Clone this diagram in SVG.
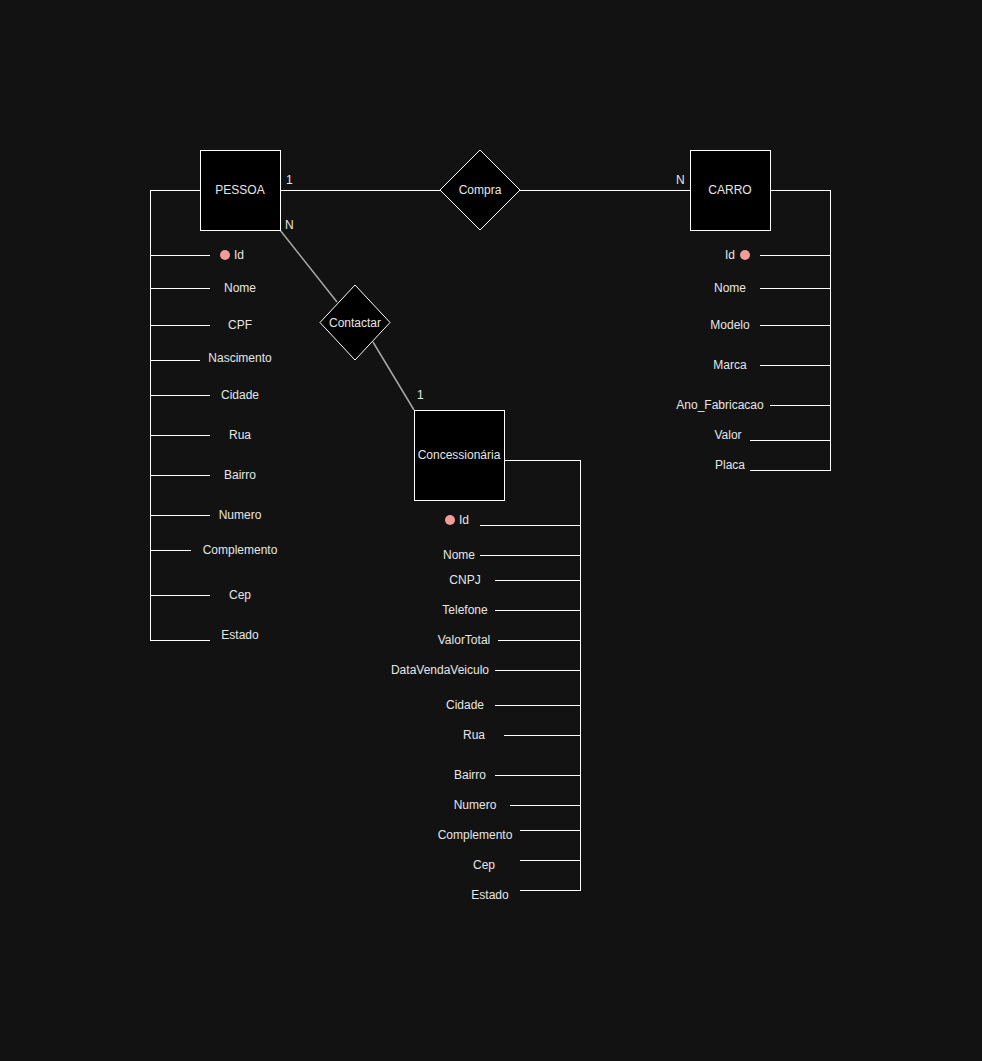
<svg xmlns="http://www.w3.org/2000/svg" width="982" height="1061" viewBox="0 0 982 1061">
<style>
.bg{fill:#121212}
.ent{fill:#000;stroke:#fff;stroke-width:1;shape-rendering:crispEdges}
.rel{fill:#000;stroke:#fff;stroke-width:1}
.ln{stroke:#fff;stroke-width:1;fill:none;shape-rendering:crispEdges}
.gl{stroke:#a6a6a6;stroke-width:1.5;fill:none}
text{font-family:"Liberation Sans",Arial,Helvetica,sans-serif;font-size:12px;fill:#e6e6e6}
.c{text-anchor:middle}
.pk{fill:#f19c99}
</style>
<rect class="bg" x="0" y="0" width="982" height="1061"/>
<g id="connectors">
<path class="ln" d="M280 190H440M520 190H690"/>
<path class="gl" d="M280 230L337 302M373 342L414 410"/>
<path class="ln" d="M200 190H150V640H210M150 255H210M150 288H210M150 325H210M150 360H200M150 395H210M150 435H210M150 475H210M150 515H210M150 550H191M150 595H210"/>
<path class="ln" d="M770 190H830V470H750M830 255H760M830 288H760M830 325H760M830 365H760M830 405H770M830 440H750"/>
<path class="ln" d="M504 460H580V890H520M580 525H480M580 555H480M580 580H495M580 610H495M580 640H498M580 670H495M580 705H495M580 735H504M580 775H495M580 805H510M580 830H520M580 860H520"/>
</g>
<g id="pessoa"><rect class="ent" x="200" y="150" width="80" height="80"/><text class="c" x="240" y="194">PESSOA</text></g>
<g id="compra"><path class="rel" d="M480 150L520 190L480 230L440 190Z"/><text class="c" x="480" y="194">Compra</text></g>
<g id="carro"><rect class="ent" x="690" y="150" width="80" height="80"/><text class="c" x="730" y="194">CARRO</text></g>
<g id="contactar"><path class="rel" d="M355 285L390 322.5L355 360L320 322.5Z"/><text class="c" x="355" y="327">Contactar</text></g>
<g id="concessionaria"><rect class="ent" x="414" y="410" width="90" height="90"/><text class="c" x="459" y="459">Concessionária</text></g>
<g id="labels">
<text x="286" y="184">1</text>
<text x="285" y="229">N</text>
<text x="676" y="184">N</text>
<text x="417" y="399">1</text>
</g>
<g id="pessoa-attrs">
<circle class="pk" cx="225" cy="255" r="5"/><text x="234" y="259">Id</text>
<text class="c" x="240" y="292">Nome</text>
<text class="c" x="240" y="329">CPF</text>
<text class="c" x="240" y="362">Nascimento</text>
<text class="c" x="240" y="399">Cidade</text>
<text class="c" x="240" y="439">Rua</text>
<text class="c" x="240" y="479">Bairro</text>
<text class="c" x="240" y="519">Numero</text>
<text class="c" x="240" y="554">Complemento</text>
<text class="c" x="240" y="599">Cep</text>
<text class="c" x="240" y="639">Estado</text>
</g>
<g id="carro-attrs">
<circle class="pk" cx="745" cy="255" r="5"/><text class="c" x="730" y="259">Id</text>
<text class="c" x="730" y="292">Nome</text>
<text class="c" x="730" y="329">Modelo</text>
<text class="c" x="730" y="369">Marca</text>
<text class="c" x="720" y="409">Ano_Fabricacao</text>
<text class="c" x="728" y="439">Valor</text>
<text class="c" x="730" y="469">Placa</text>
</g>
<g id="conc-attrs">
<circle class="pk" cx="450" cy="520" r="5"/><text x="459" y="524">Id</text>
<text class="c" x="459" y="559">Nome</text>
<text class="c" x="465" y="584">CNPJ</text>
<text class="c" x="465" y="614">Telefone</text>
<text class="c" x="464" y="644">ValorTotal</text>
<text class="c" x="440" y="674">DataVendaVeiculo</text>
<text class="c" x="465" y="709">Cidade</text>
<text class="c" x="474" y="739">Rua</text>
<text class="c" x="470" y="779">Bairro</text>
<text class="c" x="475" y="809">Numero</text>
<text class="c" x="475" y="839">Complemento</text>
<text class="c" x="484" y="869">Cep</text>
<text class="c" x="490" y="899">Estado</text>
</g>
</svg>
